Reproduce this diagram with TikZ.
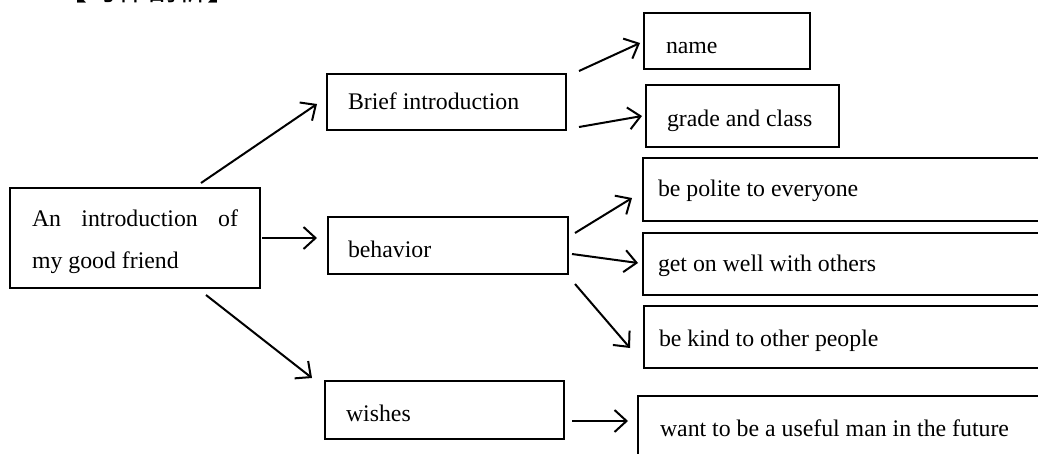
\documentclass[tikz,border=0pt]{standalone}
\usepackage{fontspec}
\setmainfont{Liberation Serif}
\newfontfamily\cjk{Noto Sans CJK SC}
\usetikzlibrary{arrows.meta,calc}
\newcommand\tfont{\fontsize{23.8}{42}\selectfont}
\newcommand\normspaces{\spaceskip=0pt\relax\xspaceskip=0pt\relax}
\tikzset{
  bx/.style={draw, line width=2pt, anchor=north west, inner ysep=0pt,
    text depth=0pt, font=\tfont, execute at begin node=\normspaces},
  arr/.style={line width=2pt, -{Straight Barb[length=12pt,width=22pt,line width=2pt]}},
}
\begin{document}
\begin{tikzpicture}[x=1pt,y=-1pt]
\path[use as bounding box, clip] (0,0) rectangle (1038,453);
\fill[white] (0,0) rectangle (1038,453);
% header (cut off at top, as in the reference)
\node[anchor=base west, inner sep=0pt, font=\cjk\fontsize{30}{30}\selectfont] (hdr) at (57,0) {【习作剖析】};
% main box
\node[bx, minimum width=250pt, minimum height=100pt, text width=206pt, inner xsep=22pt,
      text height=16pt, text depth=40pt] (main) at (9,187)
  {\parbox[t]{206pt}{\normspaces\makebox[206pt][s]{An introduction of}\\my good friend}};
% second level
\node[bx, minimum width=239pt, minimum height=56pt, text width=197pt, inner xsep=21pt, text height=14pt] (brief) at (326,73) {Brief introduction};
\node[bx, minimum width=240pt, minimum height=57pt, text width=200pt, inner xsep=20pt, text height=23pt] (behavior) at (327,216) {behavior};
\node[bx, minimum width=239pt, minimum height=58pt, text width=197pt, inner xsep=21pt, text height=22pt] (wishes) at (324,380) {wishes};
% third level
\node[bx, minimum width=166pt, minimum height=56pt, text width=122pt, inner xsep=22pt, text height=24pt] (name) at (643,12) {name};
\node[bx, minimum width=193pt, minimum height=62pt, text width=151pt, inner xsep=21pt, text height=20pt] (grade) at (645,84) {grade and class};
\node[bx, minimum width=430pt, minimum height=63pt, text width=400pt, inner xsep=15pt, text height=13pt] (polite) at (642,157) {be polite to everyone};
\node[bx, minimum width=430pt, minimum height=62pt, text width=400pt, inner xsep=15pt, text height=14pt] (geton) at (642,232) {get on well with others};
\node[bx, minimum width=430pt, minimum height=62pt, text width=400pt, inner xsep=15pt, text height=18pt] (kind) at (643,305) {be kind to other people};
\node[bx, minimum width=430pt, minimum height=80pt, text width=386pt, inner xsep=22pt, text height=0pt] (want) at (637,395) {want to be a useful man in the future};
% connectors
\draw[arr] ($(main.north)+(66,-4)$) -- ($(brief.west)+(-9,2)$);
\draw[arr] ($(main.east)+(1,0)$) -- ($(main.east -| behavior.west)+(-10,0)$);
\draw[arr] ($(main.south)+(71,6)$) -- ($(wishes.north west)+(-12,-2)$);
\draw[arr] ($(brief.north east)+(12,-2)$) -- ($(name.west)+(-3,2)$);
\draw[arr] ($(brief.south east)+(12,-4)$) -- ($(grade.west)+(-3,0)$);
\draw[arr] ($(behavior.east)+(6,-12.5)$) -- ($(polite.west)+(-10,8.5)$);
\draw[arr] ($(behavior.east)+(3,8.5)$) -- ($(geton.west)+(-4,-1)$);
\draw[arr] ($(behavior.south east)+(6,9)$) -- ($(kind.west)+(-13,11)$);
\draw[arr] ($(wishes.east)+(7,11)$) -- ($(want.west)+(-9,-15)$);
\end{tikzpicture}
\end{document}
